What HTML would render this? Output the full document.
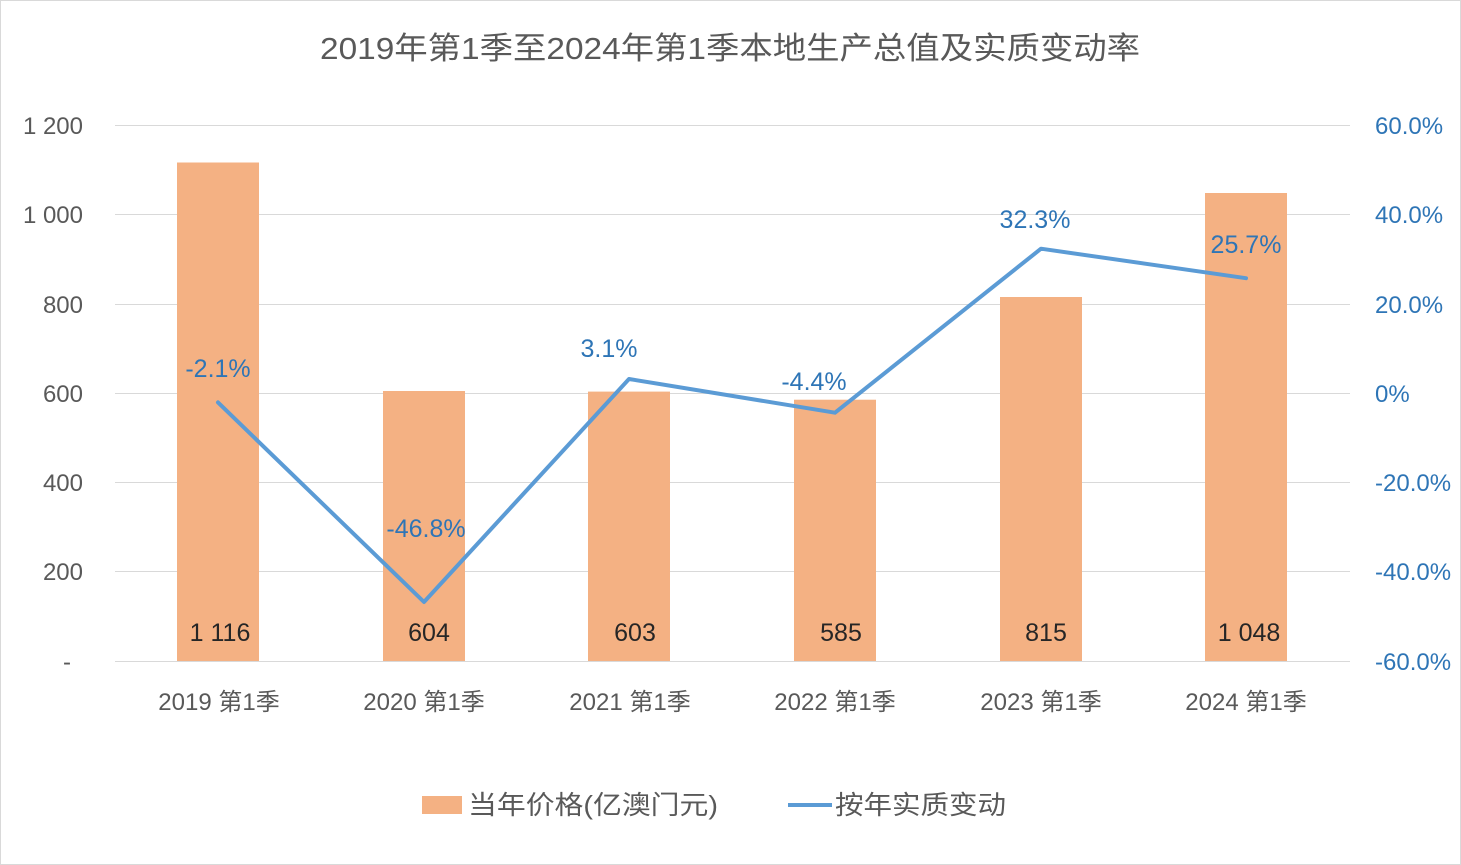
<!DOCTYPE html>
<html><head><meta charset="utf-8"><style>
body{margin:0;background:#fff;}
svg{display:block;font-family:"Liberation Sans","Noto Sans CJK SC",sans-serif;}
</style></head><body>
<svg width="1461" height="865" viewBox="0 0 1461 865">
<rect x="0.5" y="0.5" width="1460" height="864" fill="#fff" stroke="#d9d9d9"/>
<text x="320" y="59" textLength="820" lengthAdjust="spacingAndGlyphs" font-size="31" fill="#595959">2019年第1季至2024年第1季本地生产总值及实质变动率</text>
<g stroke="#d9d9d9" stroke-width="1">
<line x1="115" x2="1350" y1="125.5" y2="125.5"/>
<line x1="115" x2="1350" y1="214.5" y2="214.5"/>
<line x1="115" x2="1350" y1="304.5" y2="304.5"/>
<line x1="115" x2="1350" y1="393.5" y2="393.5"/>
<line x1="115" x2="1350" y1="482.5" y2="482.5"/>
<line x1="115" x2="1350" y1="571.5" y2="571.5"/>
<line x1="115" x2="1350" y1="661.5" y2="661.5"/>
</g>
<g font-size="24" fill="#595959" text-anchor="end">
<text x="83" y="134">1 200</text><text x="83" y="223">1 000</text><text x="83" y="313">800</text>
<text x="83" y="402">600</text><text x="83" y="491">400</text><text x="83" y="580">200</text><text x="71" y="670">-</text>
</g>
<g font-size="24" fill="#2e75b6" text-anchor="start">
<text x="1375" y="134">60.0%</text><text x="1375" y="223">40.0%</text><text x="1375" y="313">20.0%</text>
<text x="1375" y="402">0%</text><text x="1375" y="491">-20.0%</text><text x="1375" y="580">-40.0%</text><text x="1375" y="670">-60.0%</text>
</g>
<g fill="#f4b183">
<rect x="177" y="162.5" width="82" height="498.5"/>
<rect x="383" y="391" width="82" height="270"/>
<rect x="588" y="391.6" width="82" height="269.4"/>
<rect x="794" y="399.7" width="82" height="261.3"/>
<rect x="1000" y="297" width="82" height="364"/>
<rect x="1205" y="193" width="82" height="468"/>
</g>
<g font-size="25" fill="#262626" text-anchor="middle">
<text x="220" y="641">1 116</text><text x="429" y="641">604</text><text x="635" y="641">603</text>
<text x="841" y="641">585</text><text x="1046" y="641">815</text><text x="1249" y="641">1 048</text>
</g>
<polyline points="218,402.4 424,602 629,379 835,412.7 1041,248.7 1246,278.2" fill="none" stroke="#5b9bd5" stroke-width="4" stroke-linejoin="round" stroke-linecap="round"/>
<g font-size="25" fill="#2e75b6" text-anchor="middle">
<text x="218" y="377">-2.1%</text><text x="426" y="537">-46.8%</text><text x="609" y="357">3.1%</text>
<text x="814" y="390">-4.4%</text><text x="1035" y="228">32.3%</text><text x="1246" y="253">25.7%</text>
</g>
<g font-size="24" fill="#595959" text-anchor="middle">
<text x="219" y="710">2019 第1季</text><text x="424" y="710">2020 第1季</text><text x="630" y="710">2021 第1季</text>
<text x="835" y="710">2022 第1季</text><text x="1041" y="710">2023 第1季</text><text x="1246" y="710">2024 第1季</text>
</g>
<rect x="422" y="796" width="40" height="18" fill="#f4b183"/>
<text x="468" y="814" font-size="26" fill="#595959" textLength="250" lengthAdjust="spacingAndGlyphs">当年价格(亿澳门元)</text>
<line x1="788" x2="832" y1="805" y2="805" stroke="#5b9bd5" stroke-width="4"/>
<text x="835" y="814" font-size="26" fill="#595959" textLength="171" lengthAdjust="spacingAndGlyphs">按年实质变动</text>
</svg>
</body></html>
